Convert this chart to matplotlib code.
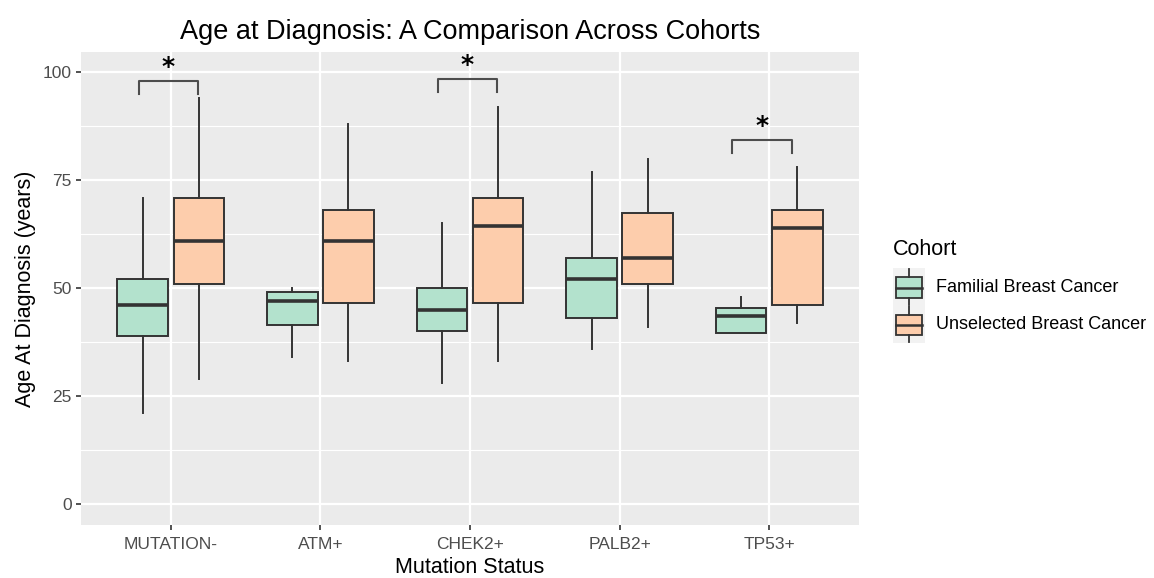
import matplotlib.pyplot as plt
import numpy as np
from matplotlib.legend_handler import HandlerBase
from matplotlib.patches import Rectangle
from matplotlib.lines import Line2D

plt.rcParams['font.family'] = ['Liberation Sans', 'DejaVu Sans']

categories = ["MUTATION-", "ATM+", "CHEK2+", "PALB2+", "TP53+"]
cohorts = ["Familial Breast Cancer", "Unselected Breast Cancer"]
colors = ["#B3E2CD", "#FDCDAC"]

# five-number summaries per mutation status
fam_lo = [21, 34, 28, 36, 39.5]
fam_q1 = [39, 41.5, 40, 43, 39.5]
fam_med = [46, 47, 45, 52, 43.5]
fam_q3 = [52, 49, 50, 57, 45.5]
fam_hi = [71, 50, 65, 77, 48]

uns_lo = [29, 33, 33, 41, 42]
uns_q1 = [51, 46.5, 46.5, 51, 46]
uns_med = [61, 61, 64.5, 57, 64]
uns_q3 = [71, 68, 71, 67.5, 68]
uns_hi = [94, 88, 92, 80, 78]

# significance brackets
sig_groups = ["MUTATION-", "CHEK2+", "TP53+"]
sig_top = [98, 98.4, 84.3]
sig_left = [-0.215, -0.215, -0.25]
sig_right = [0.18, 0.18, 0.155]

EDGE = "#333333"
DODGE = 0.1875
BOXW = 0.3375


def stats(lo, q1, med, q3, hi):
    return [dict(whislo=a, q1=b, med=c, q3=d, whishi=e, fliers=[])
            for a, b, c, d, e in zip(lo, q1, med, q3, hi)]


class BoxKey(HandlerBase):
    def __init__(self, color):
        super().__init__()
        self.color = color

    def create_artists(self, legend, orig_handle, xdescent, ydescent,
                       width, height, fontsize, trans):
        x0, y0 = -xdescent, -ydescent
        bg = Rectangle((x0, y0), width, height, fc="#F2F2F2", ec="none", transform=trans)
        bw = width * 0.78
        bx = x0 + (width - bw) / 2
        cx = x0 + width / 2
        lo, hi = y0 + height * 0.21, y0 + height * 0.75
        box = Rectangle((bx, lo), bw, hi - lo, fc=self.color, ec=EDGE, lw=1.3, transform=trans)
        med = Line2D([bx, bx + bw], [(lo + hi) / 2] * 2, color=EDGE, lw=1.8, transform=trans)
        w1 = Line2D([cx, cx], [y0 + height * 0.02, lo], color=EDGE, lw=1.3, transform=trans)
        w2 = Line2D([cx, cx], [hi, y0 + height * 0.98], color=EDGE, lw=1.3, transform=trans)
        return [bg, box, med, w1, w2]


fig = plt.figure(figsize=(11.54, 5.78), dpi=100)
ax = fig.add_axes([0.0702, 0.0917, 0.6742, 0.8189])
ax.set_facecolor("#EBEBEB")

x = np.arange(1, len(categories) + 1)
groups = [stats(fam_lo, fam_q1, fam_med, fam_q3, fam_hi),
          stats(uns_lo, uns_q1, uns_med, uns_q3, uns_hi)]
handles = []
for i, (st, col) in enumerate(zip(groups, colors)):
    pos = x + (i * 2 - 1) * DODGE
    ax.bxp(st, positions=pos, widths=BOXW, patch_artist=True, showcaps=False,
           boxprops=dict(facecolor=col, edgecolor=EDGE, linewidth=1.4),
           whiskerprops=dict(color=EDGE, linewidth=1.4),
           medianprops=dict(color=EDGE, linewidth=2.6, solid_capstyle="butt"),
           manage_ticks=False, zorder=3)
    handles.append(Rectangle((0, 0), 1, 1, fc=col))

for g, top, l, r in zip(sig_groups, sig_top, sig_left, sig_right):
    c = categories.index(g) + 1
    ax.plot([c + l, c + l, c + r, c + r], [top - 3, top, top, top - 3],
            color="#4D4D4D", lw=1.5, zorder=4)
    ax.text(c + (l + r) / 2, top + 0.5, "*", ha="center", va="bottom",
            fontsize=18, fontweight="bold", family="DejaVu Sans", color="black")

ax.set_xlim(0.4, 5.6)
ax.set_ylim(-4.9, 104.8)
ax.set_xticks(x)
ax.set_xticklabels(categories)
ax.set_yticks([0, 25, 50, 75, 100])
ax.set_yticks([12.5, 37.5, 62.5, 87.5], minor=True)
ax.grid(which="major", color="white", lw=1.6, zorder=0)
ax.grid(which="minor", axis="y", color="white", lw=0.8, zorder=0)
ax.set_axisbelow(True)
for s in ax.spines.values():
    s.set_visible(False)
ax.tick_params(which="major", length=3.5, width=1.2, color="#333333",
               labelcolor="#4D4D4D", labelsize=12.5, pad=3)
ax.tick_params(axis="x", which="major", pad=5)
ax.tick_params(which="minor", length=0)

ax.set_xlabel("Mutation Status", fontsize=15.5, color="black", labelpad=4)
ax.set_ylabel("Age At Diagnosis (years)", fontsize=15.5, color="black", labelpad=5)
ax.set_title("Age at Diagnosis: A Comparison Across Cohorts", fontsize=19.5, pad=9)

leg = fig.legend(handles, cohorts, title="Cohort", loc="center left",
                 bbox_to_anchor=(0.7735, 0.497), frameon=False, fontsize=13,
                 title_fontsize=15.5, alignment="left",
                 handler_map={handles[0]: BoxKey(colors[0]), handles[1]: BoxKey(colors[1])},
                 handlelength=1.8, handleheight=2.8, labelspacing=0.0,
                 handletextpad=0.6, borderaxespad=0, borderpad=0)
leg._legend_box.sep = 6

fig.savefig("out.png", dpi=100)
